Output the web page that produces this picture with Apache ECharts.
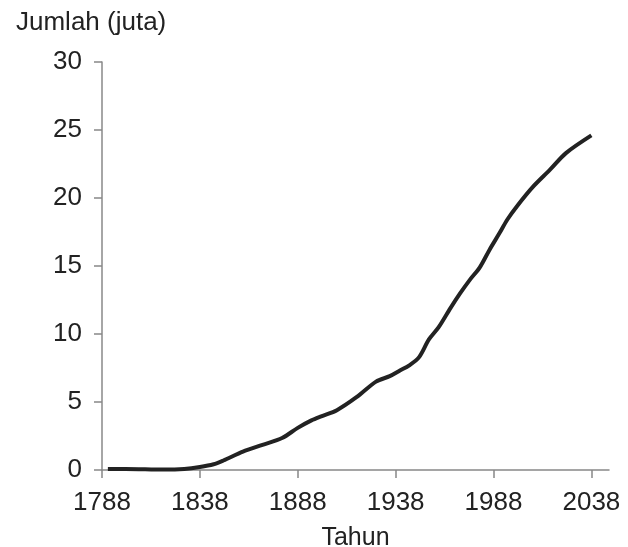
<!DOCTYPE html>
<html>
<head>
<meta charset="utf-8">
<script src="https://cdn.jsdelivr.net/npm/echarts@6/dist/echarts.min.js"></script>
<style>html,body{margin:0;padding:0;background:#fff}#c{width:628px;height:547px}</style>
</head>
<body>
<div id="c"></div>
<script>
const years = [1791,1800,1810,1820,1830,1838,1845,1850,1860,1870,1880,1888,1895,1900,1908,1918,1928,1935,1940,1945,1950,1955,1960,1966,1971,1976,1981,1986,1991,1995,2000,2008,2017,2025,2038];
const values = [0.07,0.07,0.05,0.03,0.08,0.22,0.42,0.7,1.35,1.85,2.35,3.1,3.65,3.95,4.4,5.35,6.5,6.9,7.3,7.7,8.3,9.6,10.5,11.9,13.0,14.0,14.9,16.2,17.4,18.4,19.4,20.8,22.1,23.3,24.6];
const xTicks = [1788,1838,1888,1938,1988,2038];
const yTitle = 'Jumlah (juta)';
const xTitle = 'Tahun';

const font = 'Liberation Sans, Arial, sans-serif';
const chart = echarts.init(document.getElementById('c'));
chart.setOption({
  animation: false,
  title: {text: yTitle, left: 11, top: 5, textStyle: {fontFamily: font, fontSize: 26, fontWeight: 'normal', color: '#222'}},
  grid: {left: 102, right: 19, top: 62, bottom: 77, containLabel: false, outerBoundsMode: 'none'},
  xAxis: {
    type: 'value', min: 1788, max: 2047,
    name: xTitle, nameLocation: 'middle', nameGap: 56,
    nameTextStyle: {fontFamily: font, fontSize: 25, color: '#222'},
    axisLine: {show: true, lineStyle: {color: '#888', width: 1.5}},
    axisTick: {show: true, length: 8, lineStyle: {color: '#888', width: 1.5}, customValues: xTicks},
    axisLabel: {fontFamily: font, fontSize: 26, color: '#222', margin: 20, customValues: xTicks, formatter: v => String(v)},
    splitLine: {show: false}
  },
  yAxis: {
    type: 'value', min: 0, max: 30, interval: 5,
    axisLine: {show: true, lineStyle: {color: '#888', width: 1.5}},
    axisTick: {show: true, length: 8, lineStyle: {color: '#888', width: 1.5}},
    axisLabel: {fontFamily: font, fontSize: 26, color: '#222', margin: 20},
    splitLine: {show: false}
  },
  series: [{
    type: 'line', smooth: 0.3, symbol: 'none',
    data: years.map((y, i) => [y, values[i]]),
    lineStyle: {color: '#222', width: 4}
  }]
});
</script>
</body>
</html>
